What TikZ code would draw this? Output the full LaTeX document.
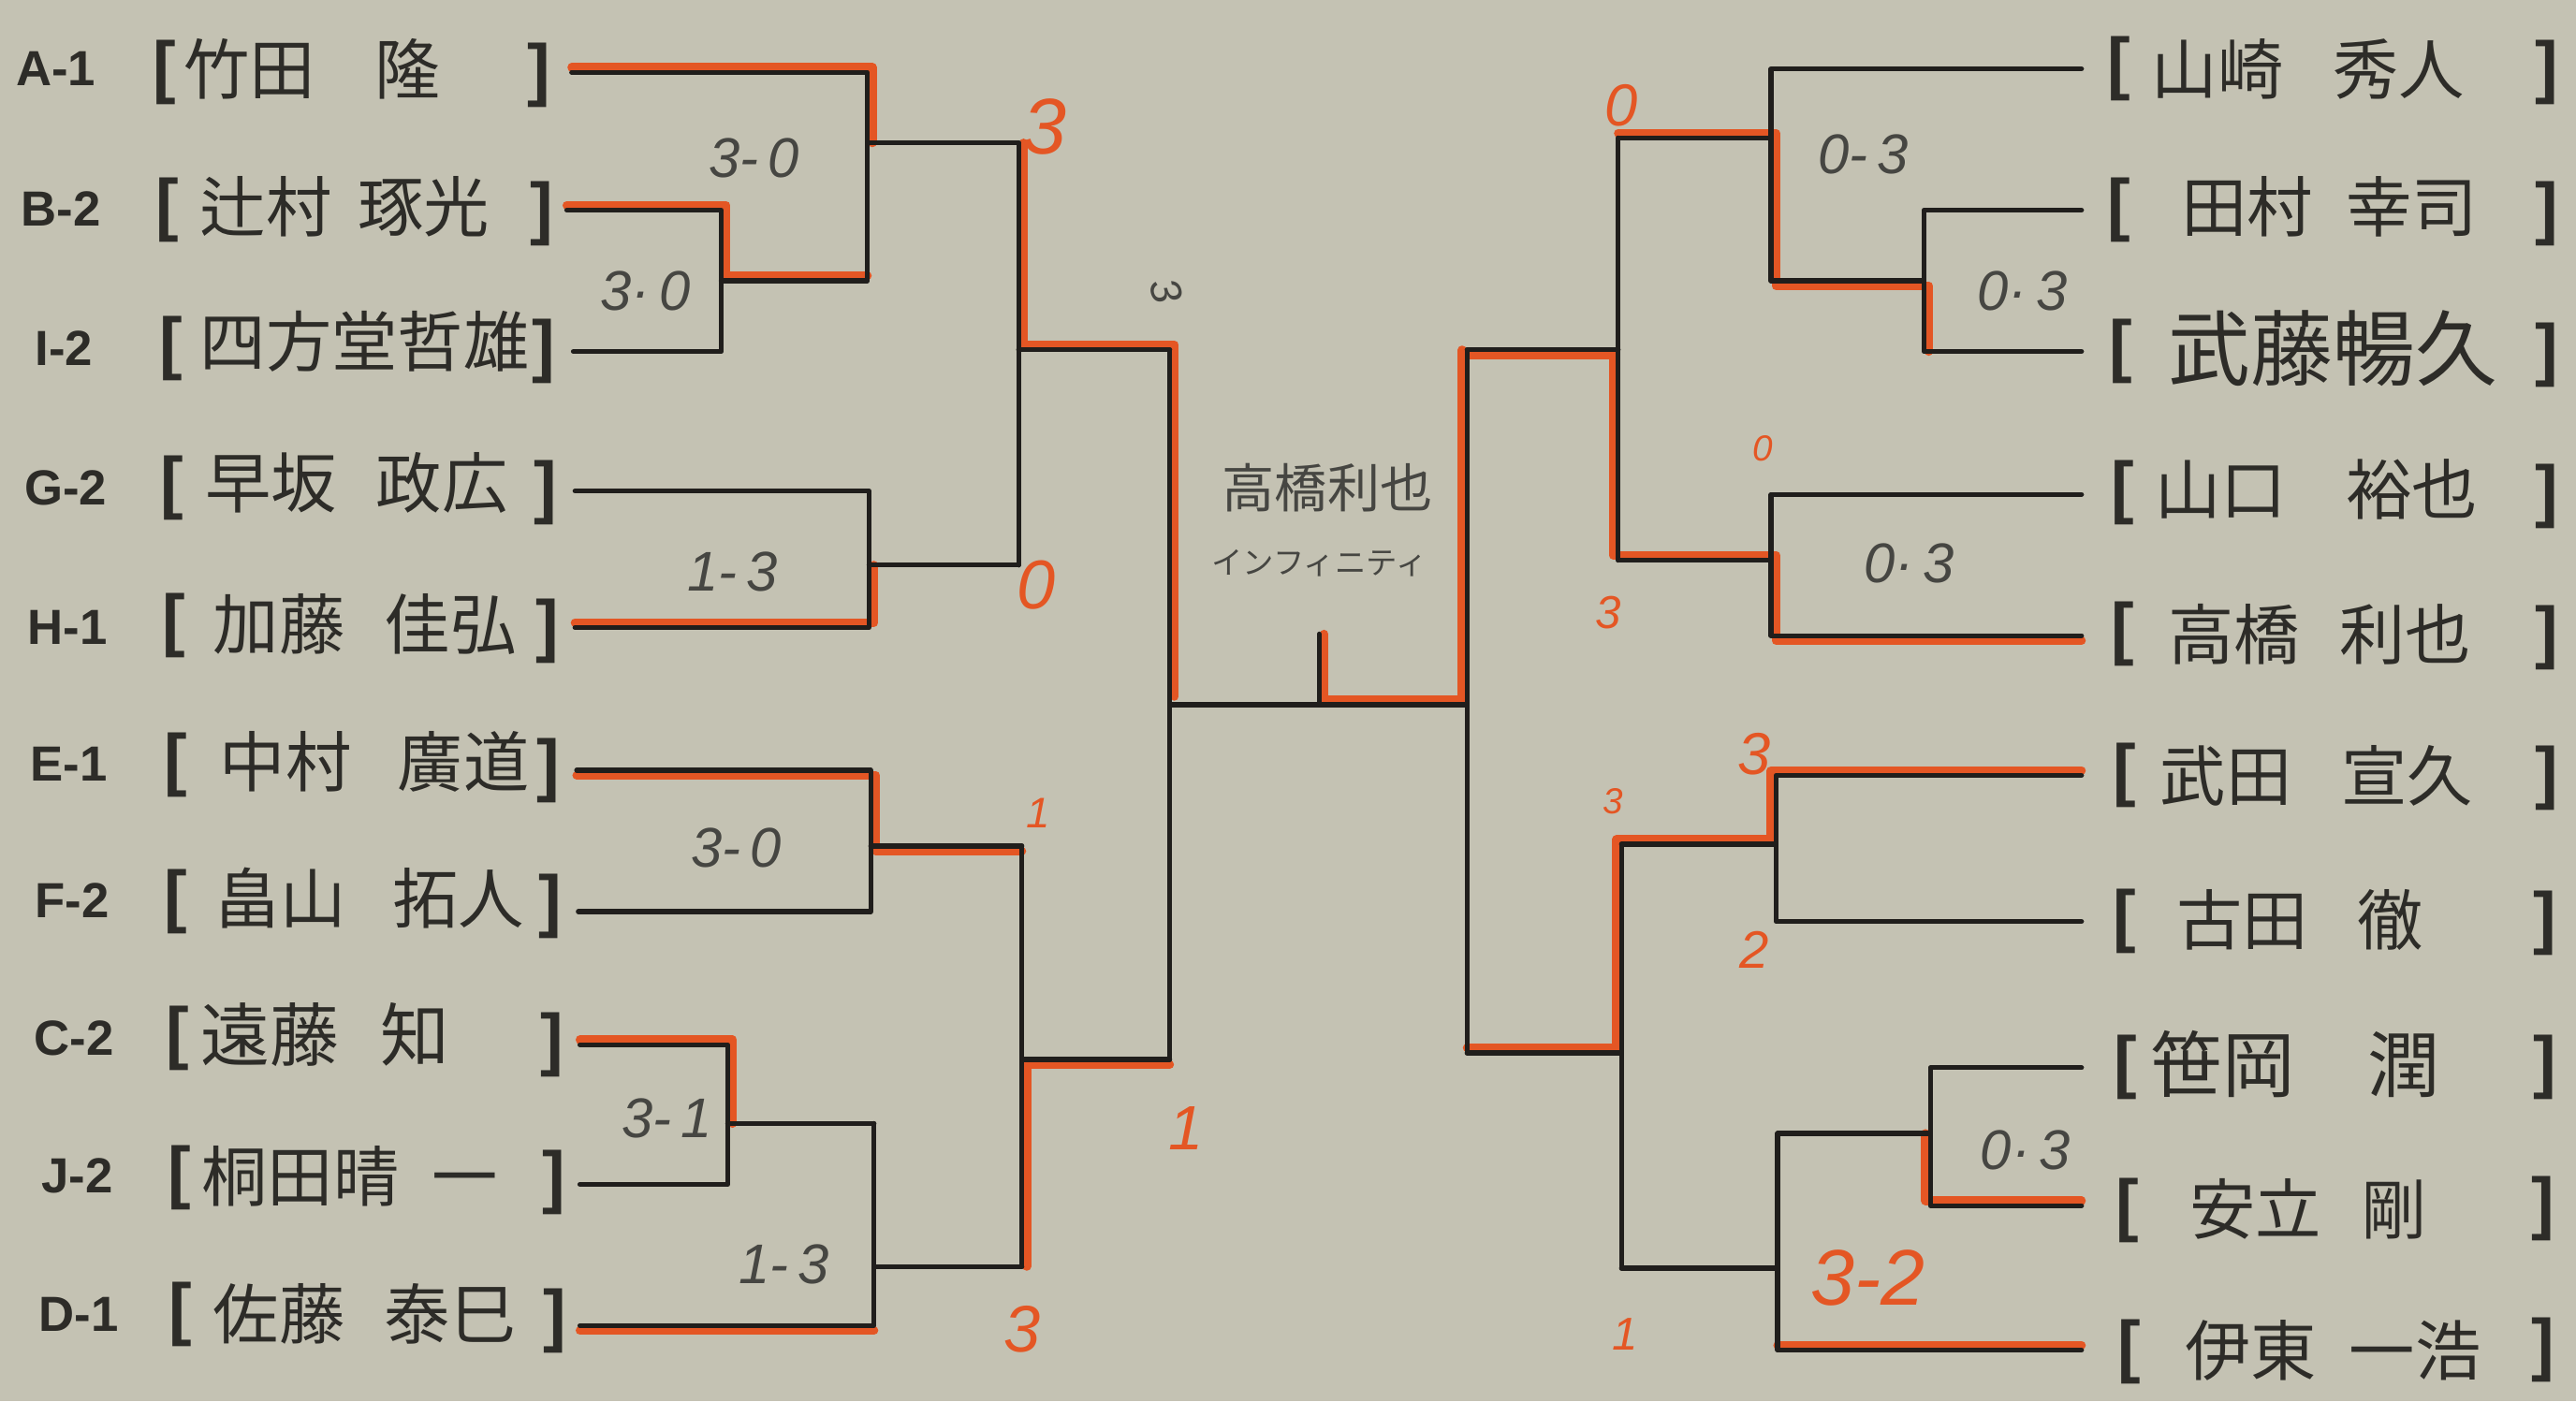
\documentclass[tikz,border=0pt]{standalone}
\usepackage{fontspec}
\setmainfont{Liberation Sans}
\newfontfamily\jp{Noto Sans CJK JP}
\definecolor{paper}{RGB}{196,194,179}
\definecolor{ink}{RGB}{32,30,28}
\definecolor{inkt}{RGB}{45,44,40}
\definecolor{pencil}{RGB}{70,70,66}
\definecolor{hot}{RGB}{228,86,36}
\newcommand\fsz[1]{\fontsize{#1}{#1}\selectfont}
\newcommand\hoff{1.5pt}
\newcommand\gap[1]{\hspace{#1em}}
\begin{document}
\begin{tikzpicture}[x=0.017551cm,y=-0.017551cm,
  blk/.style={draw=ink,line width=1.5pt,line join=round,line cap=round},
  hl/.style={draw=hot,line width=2.6pt,line join=round,line cap=round},
  nm/.style={font=\jp\fsz{20},text=inkt,inner sep=0pt},
  brk/.style={font=\bfseries\fsz{21},text=inkt,inner sep=0pt},
  lab/.style={font=\bfseries\fsz{15},text=inkt,inner sep=0pt},
  sc/.style={font=\itshape\fsz{17},text=pencil,inner sep=0pt},
  rs/.style={font=\itshape,text=hot,inner sep=0pt}]
\useasboundingbox (0,0) rectangle (1568,853);
\fill[paper] (0,0) rectangle (1568,853);

% ---------- left entrants ----------
\coordinate (A1s) at (348,44);  \coordinate (A1e) at (528,44);
\coordinate (B2s) at (345,128); \coordinate (B2e) at (439,128);
\coordinate (I2s) at (349,214); \coordinate (I2e) at (439,214);
\coordinate (G2s) at (350,299); \coordinate (G2e) at (529,299);
\coordinate (H1s) at (350,382); \coordinate (H1e) at (529,382);
\coordinate (E1s) at (351,469); \coordinate (E1e) at (530,469);
\coordinate (F2s) at (352,555); \coordinate (F2e) at (530,555);
\coordinate (C2s) at (353,636); \coordinate (C2e) at (443,636);
\coordinate (J2s) at (353,721); \coordinate (J2e) at (443,721);
\coordinate (D1s) at (353,807); \coordinate (D1e) at (532,807);
% left joints
\coordinate (m1a) at (439,171); \coordinate (m1b) at (528,171);
\coordinate (m2a) at (528,87);  \coordinate (m2b) at (620,87);
\coordinate (m3a) at (529,344); \coordinate (m3b) at (620,344);
\coordinate (m4a) at (620,213); \coordinate (m4b) at (712,213);
\coordinate (m5a) at (530,515); \coordinate (m5b) at (622,515);
\coordinate (m6a) at (443,684); \coordinate (m6b) at (532,684);
\coordinate (m7a) at (532,771); \coordinate (m7b) at (622,771);
\coordinate (m8a) at (622,645); \coordinate (m8b) at (712,645);
\coordinate (m9a) at (712,429); \coordinate (m9b) at (803,429);
\coordinate (m9r) at (712,424);
\coordinate (ftop) at (803,386);

% ---------- right entrants ----------
\coordinate (R1s) at (1267,42);  \coordinate (R1e) at (1078,42);
\coordinate (R2s) at (1267,128); \coordinate (R2e) at (1171,128);
\coordinate (R3s) at (1267,214); \coordinate (R3e) at (1171,214);
\coordinate (R4s) at (1267,301); \coordinate (R4e) at (1078,301);
\coordinate (R5s) at (1267,387); \coordinate (R5e) at (1078,387);
\coordinate (R6s) at (1267,472); \coordinate (R6e) at (1081,472);
\coordinate (R7s) at (1267,561); \coordinate (R7e) at (1081,561);
\coordinate (R8s) at (1267,650); \coordinate (R8e) at (1175,650);
\coordinate (R9s) at (1267,734); \coordinate (R9e) at (1175,734);
\coordinate (R10s) at (1267,822); \coordinate (R10e) at (1082,822);
% right joints
\coordinate (n1a) at (1171,171); \coordinate (n1b) at (1078,171);
\coordinate (n2a) at (1078,84);  \coordinate (n2b) at (985,84);
\coordinate (n3a) at (1078,341); \coordinate (n3b) at (985,341);
\coordinate (n4a) at (985,213);  \coordinate (n4b) at (893,213);
\coordinate (n5a) at (1081,514); \coordinate (n5b) at (987,514);
\coordinate (n6a) at (1175,690); \coordinate (n6b) at (1082,690);
\coordinate (n7a) at (1082,772); \coordinate (n7b) at (987,772);
\coordinate (n8a) at (987,641);  \coordinate (n8b) at (893,641);
\coordinate (n9a) at (893,429);

% ---------- red highlights ----------
\draw[hl] ([yshift=\hoff]A1s) -- ([xshift=\hoff,yshift=\hoff]A1e) -- ([xshift=\hoff]m2a);
\draw[hl] ([yshift=\hoff]B2s) -- ([xshift=\hoff,yshift=\hoff]B2e) -- ([xshift=\hoff,yshift=\hoff]m1a) -- ([yshift=\hoff]m1b);
\draw[hl] ([yshift=\hoff]H1s) -- ([xshift=\hoff,yshift=\hoff]H1e) -- ([xshift=\hoff]m3a);
\draw[hl] ([xshift=\hoff]m2b) -- ([xshift=\hoff,yshift=\hoff]m4a) -- ([xshift=\hoff,yshift=\hoff]m4b) -- ([xshift=\hoff]m9r);
\draw[hl] ([yshift=-\hoff]E1s) -- ([xshift=\hoff,yshift=-\hoff]E1e) -- ([xshift=\hoff,yshift=-\hoff]m5a) -- ([yshift=-\hoff]m5b);
\draw[hl] ([yshift=\hoff]C2s) -- ([xshift=\hoff,yshift=\hoff]C2e) -- ([xshift=\hoff]m6a);
\draw[hl] ([yshift=-\hoff]D1s) -- ([yshift=-\hoff]D1e);
\draw[hl] ([xshift=\hoff]m7b) -- ([xshift=\hoff,yshift=-\hoff]m8a) -- ([yshift=-\hoff]m8b);

\draw[hl] ([yshift=\hoff]n2b) -- ([xshift=\hoff,yshift=\hoff]n2a) -- ([xshift=\hoff,yshift=-\hoff]n1b) -- ([xshift=\hoff,yshift=-\hoff]n1a) -- ([xshift=\hoff]R3e);
\draw[hl] ([yshift=-\hoff]n4b) -- ([xshift=-\hoff,yshift=-\hoff]n4a) -- ([xshift=-\hoff,yshift=\hoff]n3b) -- ([xshift=\hoff,yshift=\hoff]n3a) -- ([xshift=\hoff,yshift=-\hoff]R5e) -- ([yshift=-\hoff]R5s);
\draw[hl] ([xshift=-\hoff]n4b) -- ([xshift=-\hoff,yshift=\hoff]n9a) -- ([xshift=\hoff,yshift=\hoff]m9b) -- ([xshift=\hoff]ftop);
\draw[hl] ([yshift=\hoff]R6s) -- ([xshift=-\hoff,yshift=\hoff]R6e) -- ([xshift=-\hoff,yshift=\hoff]n5a) -- ([xshift=-\hoff,yshift=\hoff]n5b) -- ([xshift=-\hoff,yshift=\hoff]n8a) -- ([yshift=\hoff]n8b);
\draw[hl] ([yshift=\hoff]R9s) -- ([xshift=-\hoff,yshift=\hoff]R9e) -- ([xshift=-\hoff]n6a);
\draw[hl] ([yshift=\hoff]R10s) -- ([yshift=\hoff]R10e);

% ---------- black bracket lines ----------
\draw[blk] (A1s) -- (A1e) -- (m1b) -- (m1a);
\draw[blk] (B2s) -- (B2e) -- (I2e) -- (I2s);
\draw[blk] (m2a) -- (m2b);
\draw[blk] (G2s) -- (G2e) -- (H1e) -- (H1s);
\draw[blk] (m3a) -- (m3b);
\draw[blk] (m2b) -- (m3b);
\draw[blk] (m4a) -- (m4b);
\draw[blk] (E1s) -- (E1e) -- (F2e) -- (F2s);
\draw[blk] (m5a) -- (m5b);
\draw[blk] (C2s) -- (C2e) -- (J2e) -- (J2s);
\draw[blk] (m6a) -- (m6b);
\draw[blk] (D1s) -- (D1e) -- (m6b);
\draw[blk] (m7a) -- (m7b);
\draw[blk] (m5b) -- (m7b);
\draw[blk] (m8a) -- (m8b);
\draw[blk] (m4b) -- (m8b);
\draw[blk] (m9a) -- (n9a);
\draw[blk] (m9b) -- (ftop);

\draw[blk] (R1s) -- (R1e) -- (n1b) -- (n1a);
\draw[blk] (R2s) -- (R2e) -- (R3e) -- (R3s);
\draw[blk] (n2a) -- (n2b);
\draw[blk] (R4s) -- (R4e) -- (R5e) -- (R5s);
\draw[blk] (n3a) -- (n3b);
\draw[blk] (n2b) -- (n3b);
\draw[blk] (n4a) -- (n4b);
\draw[blk] (R6s) -- (R6e) -- (R7e) -- (R7s);
\draw[blk] (n5a) -- (n5b);
\draw[blk] (R8s) -- (R8e) -- (R9e) -- (R9s);
\draw[blk] (n6a) -- (n6b);
\draw[blk] (R10s) -- (R10e) -- (n6b);
\draw[blk] (n7a) -- (n7b);
\draw[blk] (n5b) -- (n7b);
\draw[blk] (n8a) -- (n8b);
\draw[blk] (n4b) -- (n8b);

% ---------- left labels and names ----------
\node[lab] (lA1) at (34,42) {A-1};
\node[lab] (lB2) at (37,127) {B-2};
\node[lab] (lI2) at (39,212) {I-2};
\node[lab] (lG2) at (40,297) {G-2};
\node[lab] (lH1) at (41,382) {H-1};
\node[lab] (lE1) at (42,465) {E-1};
\node[lab] (lF2) at (44,548) {F-2};
\node[lab] (lC2) at (45,632) {C-2};
\node[lab] (lJ2) at (47,716) {J-2};
\node[lab] (lD1) at (48,800) {D-1};

\node[brk] (bA1) at (100,44) {[};  \node[brk] (kA1) at (328,46) {]};
\node[brk] (bB2) at (102,128) {[}; \node[brk] (kB2) at (330,130) {]};
\node[brk] (bI2) at (104,212) {[}; \node[brk] (kI2) at (331,214) {]};
\node[brk] (bG2) at (105,297) {[}; \node[brk] (kG2) at (332,300) {]};
\node[brk] (bH1) at (106,381) {[}; \node[brk] (kH1) at (333,384) {]};
\node[brk] (bE1) at (107,466) {[}; \node[brk] (kE1) at (334,469) {]};
\node[brk] (bF2) at (107,549) {[}; \node[brk] (kF2) at (335,552) {]};
\node[brk] (bC2) at (108,632) {[}; \node[brk] (kC2) at (336,636) {]};
\node[brk] (bJ2) at (109,717) {[}; \node[brk] (kJ2) at (337,720) {]};
\node[brk] (bD1) at (110,800) {[}; \node[brk] (kD1) at (338,804) {]};

\node[nm] (nA1) at (190,42) {竹田\gap{0.9}隆};
\node[nm] (nB2) at (210,126) {辻村\gap{0.4}琢光};
\node[nm] (nI2) at (222,208) {四方堂哲雄};
\node[nm] (nG2) at (217,294) {早坂\gap{0.6}政広};
\node[nm] (nH1) at (222,380) {加藤\gap{0.6}佳弘};
\node[nm] (nE1) at (228,464) {中村\gap{0.7}廣道};
\node[nm] (nF2) at (225,547) {畠山\gap{0.7}拓人};
\node[nm,font=\jp\fsz{21}] (nC2) at (198,630) {遠藤\gap{0.6}知};
\node[nm] (nJ2) at (213,716) {桐田晴\gap{0.5}一};
\node[nm] (nD1) at (222,800) {佐藤\gap{0.6}泰巳};

% ---------- right names ----------
\node[brk] (bR1) at (1290,42) {[};  \node[brk] (kR1) at (1550,44) {]};
\node[brk] (bR2) at (1290,128) {[}; \node[brk] (kR2) at (1550,130) {]};
\node[brk] (bR3) at (1291,214) {[}; \node[brk] (kR3) at (1550,216) {]};
\node[brk] (bR4) at (1292,300) {[}; \node[brk] (kR4) at (1550,302) {]};
\node[brk] (bR5) at (1292,386) {[}; \node[brk] (kR5) at (1550,388) {]};
\node[brk] (bR6) at (1293,472) {[}; \node[brk] (kR6) at (1550,474) {]};
\node[brk] (bR7) at (1293,561) {[}; \node[brk] (kR7) at (1549,562) {]};
\node[brk] (bR8) at (1294,650) {[}; \node[brk] (kR8) at (1549,650) {]};
\node[brk] (bR9) at (1295,737) {[}; \node[brk] (kR9) at (1548,736) {]};
\node[brk] (bR10) at (1296,823) {[}; \node[brk] (kR10) at (1548,822) {]};

\node[nm] (nR1) at (1405,42) {山崎\gap{0.75}秀人};
\node[nm] (nR2) at (1418,126) {田村\gap{0.5}幸司};
\node[nm,font=\jp\fsz{25}] (nR3) at (1420,212) {武藤暢久};
\node[nm] (nR4) at (1410,298) {山口\gap{0.9}裕也};
\node[nm] (nR5) at (1412,386) {高橋\gap{0.6}利也};
\node[nm] (nR6) at (1410,472) {武田\gap{0.75}宣久};
\node[nm] (nR7) at (1400,560) {古田\gap{0.75}徹};
\node[nm,font=\jp\fsz{22}] (nR8) at (1397,648) {笹岡\gap{1}潤};
\node[nm] (nR9) at (1405,736) {安立\gap{0.6}剛};
\node[nm] (nR10) at (1420,822) {伊東\gap{0.5}一浩};

% ---------- centre ----------
\node[font=\jp\fsz{16},text=pencil,inner sep=0pt] (champ) at (808,297) {高橋利也};
\node[font=\jp\fsz{9.5},text=pencil,inner sep=0pt] (team) at (803,343) {インフィニティ};

% ---------- match scores ----------
\node[sc] (s1) at (459,96) {3-\,0};
\node[sc] (s2) at (393,177) {3·\,0};
\node[sc] (s3) at (446,348) {1-\,3};
\node[sc] (s4) at (448,516) {3-\,0};
\node[sc] (s5) at (406,681) {3-\,1};
\node[sc] (s6) at (477,770) {1-\,3};
\node[sc] (s7) at (1134,94) {0-\,3};
\node[sc] (s8) at (1231,177) {0·\,3};
\node[sc] (s9) at (1162,343) {0·\,3};
\node[sc] (s10) at (1233,700) {0·\,3};
\node[rs,font=\itshape\fsz{24}] (s11) at (1137,778) {3-2};

% ---------- red game counts ----------
\node[rs,font=\itshape\fsz{24}] (c1) at (636,77) {3};
\node[rs,font=\itshape\fsz{21}] (c2) at (631,356) {0};
\node[sc,font=\itshape\fsz{13},rotate=-75] (c3) at (710,177) {3};
\node[rs,font=\itshape\fsz{13}] (c4) at (632,495) {1};
\node[rs,font=\itshape\fsz{20}] (c5) at (622,809) {3};
\node[rs,font=\itshape\fsz{19}] (c6) at (722,687) {1};
\node[rs,font=\itshape\fsz{18}] (c7) at (987,64) {0};
\node[rs,font=\itshape\fsz{11}] (c8) at (1073,273) {0};
\node[rs,font=\itshape\fsz{14}] (c9) at (979,373) {3};
\node[rs,font=\itshape\fsz{18}] (c10) at (1068,459) {3};
\node[rs,font=\itshape\fsz{11}] (c11) at (982,488) {3};
\node[rs,font=\itshape\fsz{16}] (c12) at (1068,578) {2};
\node[rs,font=\itshape\fsz{14}] (c13) at (989,812) {1};
\end{tikzpicture}
\end{document}
